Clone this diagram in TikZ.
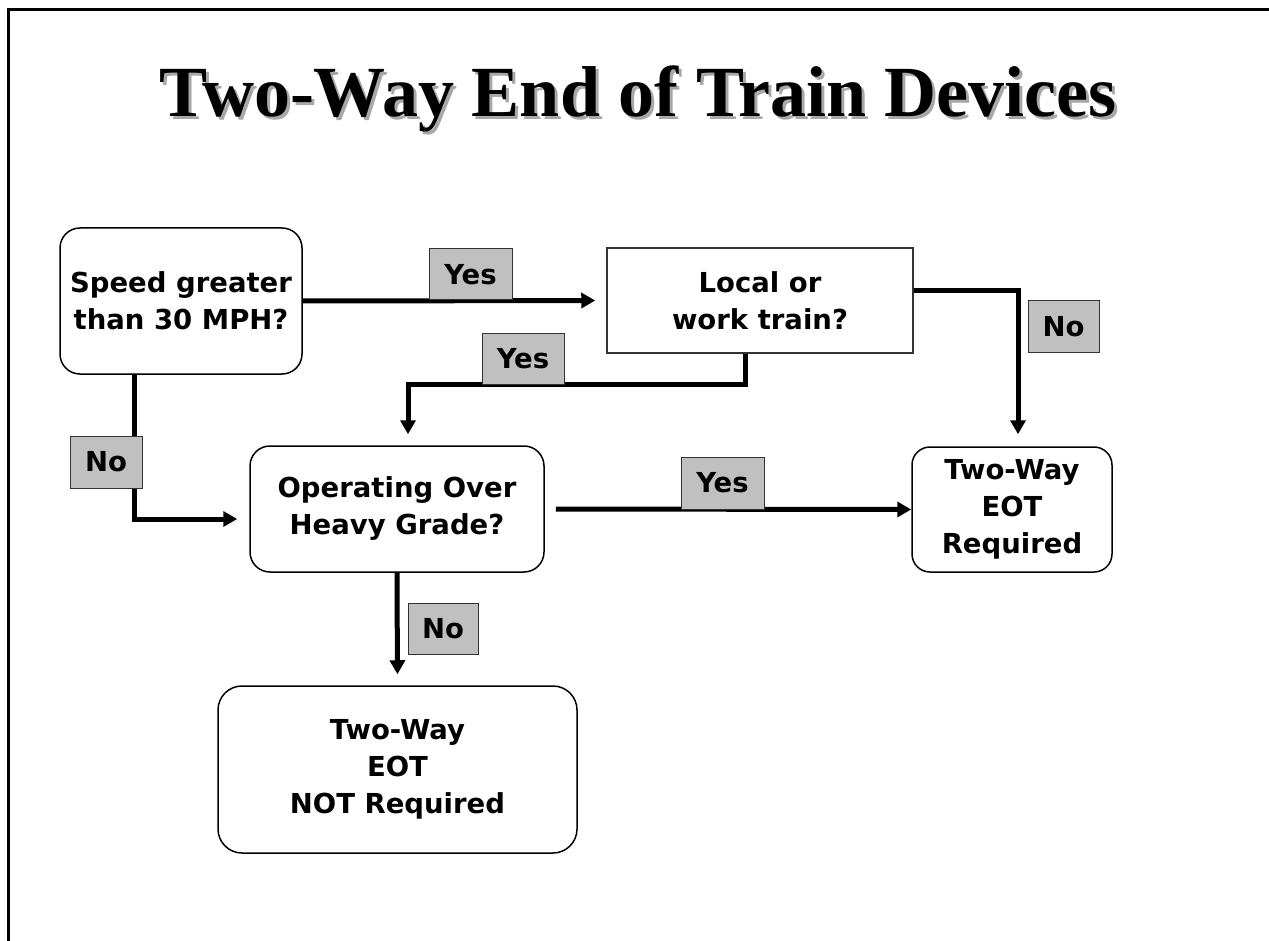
\documentclass[tikz,border=0pt]{standalone}
\usepackage{fontspec}
\setmainfont{Liberation Serif}
\newfontfamily\boxfont{DejaVu Sans}
\usetikzlibrary{arrows.meta,calc}
\definecolor{lblgray}{HTML}{C0C0C0}
\definecolor{shadowgray}{HTML}{A8A8A8}
\definecolor{edgegray}{HTML}{333333}
\begin{document}
\begin{tikzpicture}[x=1pt,y=-1pt,
  txt/.style={font=\boxfont\bfseries\fontsize{27.5}{37}\selectfont, align=center, inner sep=0pt},
  rbox/.style={txt, draw=black, line width=1.5pt, rounded corners=20pt},
  sbox/.style={txt, draw=edgegray, line width=1.5pt},
  lbl/.style={txt, draw=edgegray, fill=lblgray, line width=1pt},
  arr/.style={line width=5pt, -{Triangle[length=14pt,width=15pt]}},
  ttl/.style={font=\bfseries\fontsize{72}{80}\selectfont, inner sep=0pt, anchor=base}
]
\useasboundingbox (0,0) rectangle (1269,941);
% frame
\draw[line width=3pt] (8.5,960) -- (8.5,9.5) -- (1290,9.5);
% title
\node[ttl, text=shadowgray] (tshadow) at (641,120) {Two-Way End of Train Devices};
\node[ttl] (title) at (638,117) {Two-Way End of Train Devices};
% boxes
\node[rbox, minimum width=242pt, minimum height=146pt] (A) at (181,301) {Speed greater\\than 30 MPH?};
\node[sbox, minimum width=306pt, minimum height=105pt] (B) at (760,300.5) {Local or\\work train?};
\node[rbox, minimum width=294pt, minimum height=126pt] (C) at (397,509) {Operating Over\\Heavy Grade?};
\node[rbox, minimum width=200pt, minimum height=125pt, rounded corners=18pt] (D) at (1012,509.5) {Two-Way\\EOT\\Required};
\node[rbox, minimum width=359pt, minimum height=167pt, rounded corners=24pt] (E) at (397.5,769.5) {Two-Way\\EOT\\NOT Required};
% connectors
\draw[arr, shorten >=11pt] (A.east) -- (B.west);
\draw[arr, shorten >=12pt] ([yshift=9.5pt]B.east) -| ([xshift=6pt]D.north);
\draw[arr, shorten >=11pt] ([xshift=-15pt]B.south) -- ++(0,31) -| ([xshift=11pt]C.north);
\draw[arr, shorten >=12pt] ([xshift=-47pt]A.south) |- ([yshift=-10pt]C.west);
\draw[arr, shorten <=11pt] (C.east) -- (D.west);
\draw[arr, shorten >=11pt] (C.south) -- (E.north);
% labels
\node[lbl, minimum width=83pt, minimum height=51pt] (y1) at (470.5,274.5) {Yes};
\node[lbl, minimum width=82pt, minimum height=51pt] (y2) at (523,358.5) {Yes};
\node[lbl, minimum width=83pt, minimum height=52pt] (y3) at (722.5,483) {Yes};
\node[lbl, minimum width=71pt, minimum height=51pt] (n1) at (1063.5,326.5) {No};
\node[lbl, minimum width=72pt, minimum height=52pt] (n2) at (106,462) {No};
\node[lbl, minimum width=70pt, minimum height=51pt] (n3) at (443,628.5) {No};
\end{tikzpicture}
\end{document}
